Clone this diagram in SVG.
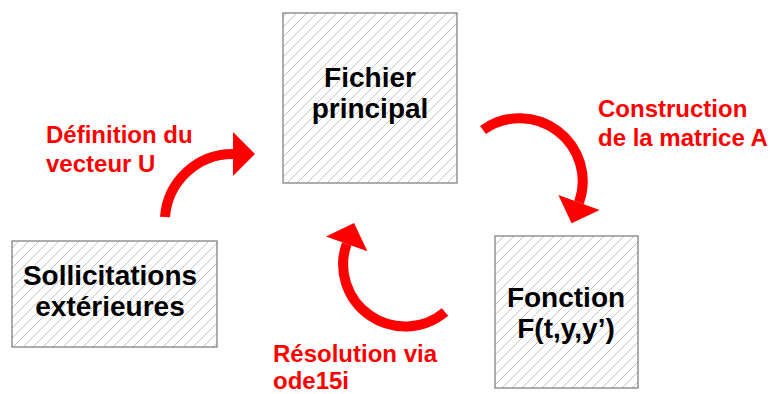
<svg xmlns="http://www.w3.org/2000/svg" width="774" height="394" viewBox="0 0 774 394">
<style>
.box{fill:url(#hatch);stroke:#777;stroke-width:1.2}
.nt{font-family:"Liberation Sans",Arial,sans-serif;font-weight:bold;font-size:28px;fill:#000;text-anchor:middle}
.lt{font-family:"Liberation Sans",Arial,sans-serif;font-weight:bold;font-size:24px;fill:#ff0000}
.arc{fill:none;stroke:#ff0000;stroke-width:10;marker-end:url(#head)}
</style>
<defs>
<pattern id="hatch" patternUnits="userSpaceOnUse" width="10" height="10">
<rect width="10" height="10" fill="#fff"/>
<path d="M-1,1 L1,-1 M0,10 L10,0 M9,11 L11,9" stroke="#bbb" stroke-width="0.9"/>
</pattern>
<marker id="head" markerUnits="userSpaceOnUse" markerWidth="24" markerHeight="46" refX="0" refY="22" orient="auto" viewBox="0 0 22 44">
<polygon points="0,1 21,22 0,43" fill="#ff0000"/>
</marker>
</defs>
<g id="fichier">
<rect class="box" x="283" y="13" width="174" height="170"/>
<text class="nt" x="370" y="87">Fichier</text>
<text class="nt" x="370" y="118">principal</text>
</g>
<g id="sollicitations">
<rect class="box" x="12" y="241" width="205" height="106"/>
<text class="nt" x="110" y="285">Sollicitations</text>
<text class="nt" x="110" y="316">extérieures</text>
</g>
<g id="fonction">
<rect class="box" x="495" y="236" width="143" height="152"/>
<text class="nt" x="566" y="307">Fonction</text>
<text class="nt" x="566" y="338">F(t,y,y’)</text>
</g>
<g id="connectors">
<path class="arc" d="M165,217 A68,68 0 0 1 233,154"/>
<path class="arc" d="M483,130 A63,63 0 0 1 579,202.5"/>
<path class="arc" d="M445,312 A62,62 0 0 1 346.7,243.8"/>
</g>
<g id="labels">
<text class="lt" x="46" y="143">Définition du</text>
<text class="lt" x="46" y="172">vecteur U</text>
<text class="lt" x="598" y="117">Construction</text>
<text class="lt" x="598" y="146">de la matrice A</text>
<text class="lt" x="273" y="362">Résolution via</text>
<text class="lt" x="273" y="389">ode15i</text>
</g>
</svg>
